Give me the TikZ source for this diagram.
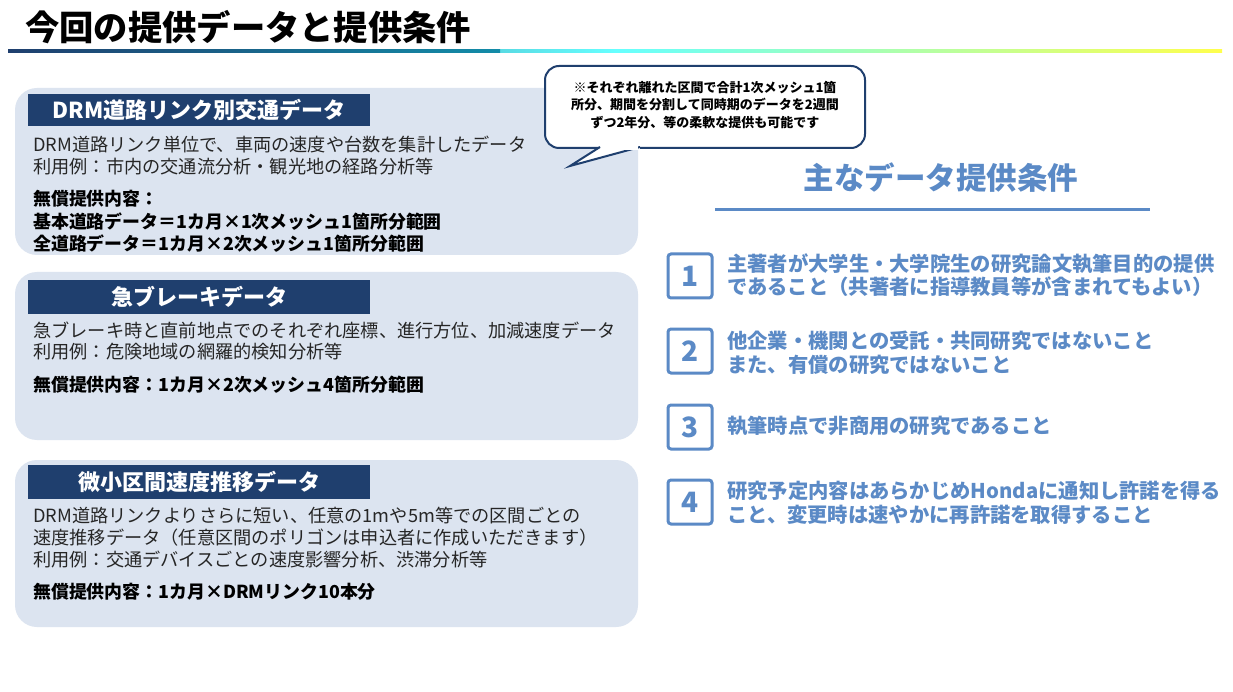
\documentclass[tikz,border=0pt]{standalone}
\usepackage{fontspec}
\setmainfont{Noto Sans CJK JP}
\definecolor{navy}{HTML}{1F3F6E}
\definecolor{boxbg}{HTML}{DCE4F0}
\definecolor{cond}{HTML}{5B8AC6}
\begin{document}
\begin{tikzpicture}[x=1pt,y=-1pt,
  panel/.style={fill=boxbg,draw=none,rounded corners=22pt},
  hdr/.style={fill=navy,text=white,font=\fontsize{22}{22}\selectfont\bfseries,inner sep=0pt},
  body/.style={anchor=west,inner sep=0pt,font=\fontsize{18.2}{18.2}\selectfont,text=black!85},
  bbody/.style={anchor=west,inner sep=0pt,font=\fontsize{17.9}{17.9}\selectfont\bfseries},
  num/.style={draw=cond,line width=3pt,rounded corners=3pt,minimum width=44pt,minimum height=44pt,text=cond,font=\fontsize{28}{28}\selectfont\bfseries,inner sep=0pt},
  ctext/.style={anchor=west,inner sep=0pt,text=cond,font=\fontsize{20.3}{20.3}\selectfont\bfseries}]
\useasboundingbox (0,0) rectangle (1233,692);
\fill[white] (0,0) rectangle (1233,692);
\node[anchor=west,inner sep=0pt,font=\fontsize{34.3}{34.3}\selectfont\bfseries] (title) at (25,27) {今回の提供データと提供条件};
\shade[left color=navy,right color=yellow!70!white,middle color=cyan!60] (8,50) rectangle (1222,53);
\shade[left color=navy,right color=navy!60!cyan] (8,50) rectangle (500,53);
% panel 1
\fill[panel] (15,88) rectangle (638,255);
\node[hdr,minimum width=342pt,minimum height=32pt] (h1) at (199,110) {DRM道路リンク別交通データ};
\node[body] (a1) at (33,145) {DRM道路リンク単位で、車両の速度や台数を集計したデータ};
\node[body] (a2) at (33,167) {利用例：市内の交通流分析・観光地の経路分析等};
\node[bbody] (a3) at (33,199) {無償提供内容：};
\node[bbody] (a4) at (33,222) {基本道路データ＝1カ月×1次メッシュ1箇所分範囲};
\node[bbody] (a5) at (33,244) {全道路データ＝1カ月×2次メッシュ1箇所分範囲};
% panel 2
\fill[panel] (15,272) rectangle (638,440);
\node[hdr,minimum width=342pt,minimum height=34pt] (h2) at (199,297) {急ブレーキデータ};
\node[body] (b1) at (33,330) {急ブレーキ時と直前地点でのそれぞれ座標、進行方位、加減速度データ};
\node[body] (b2) at (33,352) {利用例：危険地域の網羅的検知分析等};
\node[bbody] (b3) at (33,385) {無償提供内容：1カ月×2次メッシュ4箇所分範囲};
% panel 3
\fill[panel] (15,460) rectangle (638,627);
\node[hdr,minimum width=342pt,minimum height=34pt] (h3) at (199,482) {微小区間速度推移データ};
\node[body] (c1) at (33,516) {DRM道路リンクよりさらに短い、任意の1mや5m等での区間ごとの};
\node[body] (c2) at (33,538) {速度推移データ（任意区間のポリゴンは申込者に作成いただきます）};
\node[body] (c3) at (33,560) {利用例：交通デバイスごとの速度影響分析、渋滞分析等};
\node[bbody] (c4) at (33,592) {無償提供内容：1カ月×DRMリンク10本分};
% callout
\coordinate (tip) at (570,166);
\draw[navy,line width=2pt,fill=white,rounded corners=14pt] (600,148) -- (545,148) -- (545,66) -- (865,66) -- (865,148) -- (640,148);
\draw[navy,line width=2pt,fill=white,line join=miter] (600,147) -- (tip) -- (640,147);
\fill[white] (602,144) rectangle (638,150);
\node[align=center,inner sep=0pt,font=\fontsize{13}{17.5}\selectfont\bfseries] (call) at (705,105) {※それぞれ離れた区間で合計1次メッシュ1箇\\所分、期間を分割して同時期のデータを2週間\\ずつ2年分、等の柔軟な提供も可能です};
% conditions
\node[inner sep=0pt,text=cond,font=\fontsize{30.5}{30.5}\selectfont\bfseries] (ct) at (941,178) {主なデータ提供条件};
\draw[cond,line width=3pt] (715,210) -- (1150,210);
\node[num] (n1) at (690,276) {1};
\node[ctext] (t1a) at (727,264) {主著者が大学生・大学院生の研究論文執筆目的の提供};
\node[ctext] (t1b) at (727,287) {であること（共著者に指導教員等が含まれてもよい）};
\node[num] (n2) at (690,351) {2};
\node[ctext] (t2a) at (727,341) {他企業・機関との受託・共同研究ではないこと};
\node[ctext] (t2b) at (727,365) {また、有償の研究ではないこと};
\node[num] (n3) at (690,427) {3};
\node[ctext] (t3) at (727,426) {執筆時点で非商用の研究であること};
\node[num] (n4) at (690,502) {4};
\node[ctext] (t4a) at (727,491) {研究予定内容はあらかじめHondaに通知し許諾を得る};
\node[ctext] (t4b) at (727,515) {こと、変更時は速やかに再許諾を取得すること};
\end{tikzpicture}
\end{document}
